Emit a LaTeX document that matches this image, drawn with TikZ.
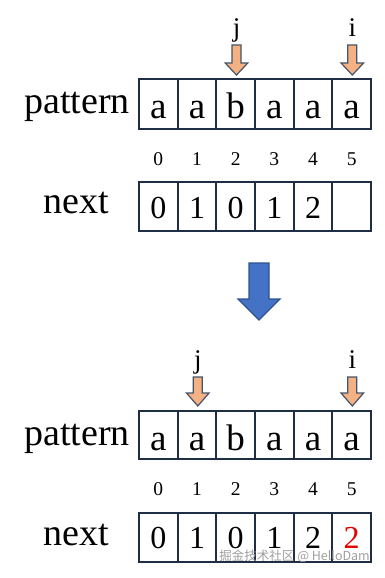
\documentclass[tikz,border=0pt]{standalone}
\usepackage{fontspec}
\setmainfont{Liberation Serif}
\newfontfamily\cjkfont{Noto Sans CJK SC}
\definecolor{boxline}{HTML}{1F2D45}
\definecolor{orfill}{HTML}{F4B183}
\definecolor{orline}{HTML}{44546A}
\definecolor{blfill}{HTML}{4472C4}
\definecolor{blline}{HTML}{2F528F}
\begin{document}
\begin{tikzpicture}[x=1pt,y=-1pt,
  cellbox/.style={draw=boxline,line width=1.8pt,minimum width=38.67pt,minimum height=#1,inner sep=0pt},
  bigtxt/.style={anchor=base,inner sep=0pt,font=\fontsize{38}{40}\selectfont},
  celltxt/.style={anchor=base,inner sep=0pt,font=\fontsize{37}{40}\selectfont},
  nexttxt/.style={anchor=base,inner sep=0pt,font=\fontsize{32}{36}\selectfont},
  idxtxt/.style={anchor=base,inner sep=0pt,font=\fontsize{19.5}{22}\selectfont},
  ptrtxt/.style={anchor=base,inner sep=0pt,font=\fontsize{27}{30}\selectfont},
  orptr/.style={fill=orfill,draw=orline,line width=1.2pt,line join=miter},
  blptr/.style={fill=blfill,draw=blline,line width=1.4pt,line join=miter}]
\useasboundingbox (0,0) rectangle (384,578);
\fill[white] (0,0) rectangle (384,578);

% ---------- top section ----------
\node[bigtxt] (pat1) at (77,113) {pattern};
\node[bigtxt] (nxt1) at (76,213) {next};
\foreach \k/\c in {0/a,1/a,2/b,3/a,4/a,5/a}{
  \node[cellbox=50pt] (p1c\k) at ({139+38.67*(\k+0.5)},104) {};
  \node[celltxt] (p1t\k) at ({139+38.67*(\k+0.5)},118) {\c};
  \node[idxtxt] (i1\k) at ({139+38.67*(\k+0.5)},165) {\k};
}
\foreach \k/\c in {0/0,1/1,2/0,3/1,4/2,5/{}}{
  \node[cellbox=49pt] (n1c\k) at ({139+38.67*(\k+0.5)},206.5) {};
  \node[nexttxt] (n1t\k) at ({139+38.67*(\k+0.5)},218) {\c};
}
% pointers top
\foreach \cx/\lab/\nm in {236.5/j/j1,352.3/i/i1}{
  \draw[orptr] (\cx-4.5,45) -- (\cx+4.5,45) -- (\cx+4.5,63) -- (\cx+11.3,63) -- (\cx,75)
     -- (\cx-11.3,63) -- (\cx-4.5,63) -- cycle;
  \node[ptrtxt] (lab\nm) at (\cx,37) {\lab};
}

% ---------- blue arrow ----------
\draw[blptr] (249,263) -- (269,263) -- (269,299) -- (280,299) -- (259,320) -- (238,299) -- (249,299) -- cycle;

% ---------- bottom section ----------
\node[bigtxt] (pat2) at (77,445) {pattern};
\node[bigtxt] (nxt2) at (76,545) {next};
\foreach \k/\c in {0/a,1/a,2/b,3/a,4/a,5/a}{
  \node[cellbox=48pt] (p2c\k) at ({139+38.67*(\k+0.5)},435) {};
  \node[celltxt] (p2t\k) at ({139+38.67*(\k+0.5)},450) {\c};
  \node[idxtxt] (i2\k) at ({139+38.67*(\k+0.5)},495) {\k};
}
\foreach \k/\c in {0/0,1/1,2/0,3/1,4/2}{
  \node[cellbox=49pt] (n2c\k) at ({139+38.67*(\k+0.5)},537.5) {};
  \node[nexttxt] (n2t\k) at ({139+38.67*(\k+0.5)},548) {\c};
}
\node[cellbox=49pt] (n2c5) at ({139+38.67*5.5},537.5) {};
\node[nexttxt,text={rgb,255:red,230;green,0;blue,0}] (n2t5) at ({139+38.67*5.5},548) {2};
% pointers bottom
\foreach \cx/\lab/\nm in {197.8/j/j2,352.3/i/i2}{
  \draw[orptr] (\cx-4.5,377) -- (\cx+4.5,377) -- (\cx+4.5,393) -- (\cx+11.3,393) -- (\cx,406)
     -- (\cx-11.3,393) -- (\cx-4.5,393) -- cycle;
  \node[ptrtxt] (lab\nm) at (\cx,368) {\lab};
}

% watermark
\node[anchor=base east,inner sep=0pt,text=gray!75,font=\cjkfont\fontsize{12.5}{14}\selectfont] (wm) at (370,560) {掘金技术社区 @ HelloDam};
\end{tikzpicture}
\end{document}
